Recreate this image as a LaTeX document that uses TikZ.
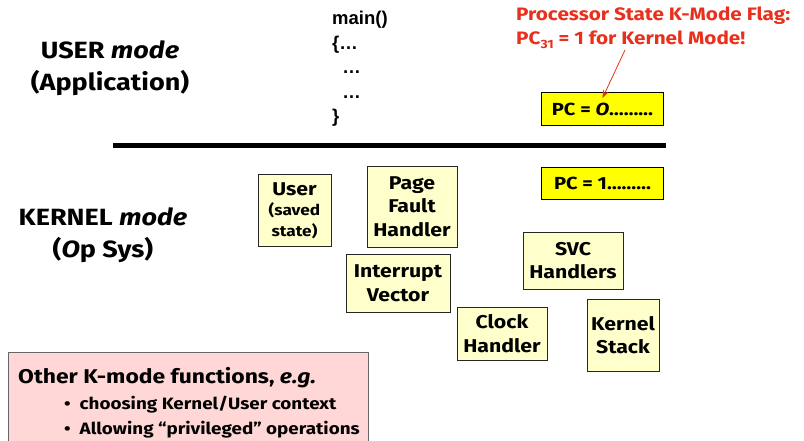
\documentclass[tikz,border=0pt]{standalone}
\usepackage{fontspec}
\setmainfont[FakeStretch=1.15]{Fira Sans}
\newfontfamily\codefont{Liberation Sans}
\usetikzlibrary{arrows.meta,calc}
\definecolor{boxfill}{HTML}{FFFFCC}
\definecolor{pcfill}{HTML}{FFFF00}
\definecolor{pinkfill}{HTML}{FFD7D7}
\definecolor{flagred}{HTML}{E8301C}
\tikzset{
  kbox/.style={draw=black!85, line width=0.9pt, fill=boxfill, align=center, inner sep=0pt, font=\bfseries\fontsize{18.5}{23.5}\selectfont},
  pcbox/.style={draw=black, line width=0.9pt, fill=pcfill, inner sep=0pt, font=\bfseries\fontsize{17.5}{20}\selectfont},
  modelabel/.style={align=center, font=\bfseries\fontsize{23.5}{32}\selectfont},
}
\begin{document}
\begin{tikzpicture}[x=1pt,y=-1pt]
\path[use as bounding box] (0,0) rectangle (804,441);
\fill[white] (0,0) rectangle (804,441);
% mode labels
\node[modelabel] (user) at (110,68) {USER \textit{mode}\\(Application)};
\node[modelabel] (kernel) at (103,235) {KERNEL \textit{mode}\\(\textit{O}p Sys)};
% code
\node[anchor=north west, align=left, inner sep=0pt, font=\codefont\bfseries\fontsize{18.5}{24.5}\selectfont] (code) at (332,11) {main()\\\{\ldots\\\ \ \ldots\\\ \ \ldots\\\}};
% divider
\coordinate (dl) at (113,146);
\coordinate (dr) at (666,146);
\draw[line width=5pt] (dl) -- (dr);
% flag text
\node[anchor=north west, align=left, inner sep=0pt, text=flagred, font=\bfseries\fontsize{18}{24}\selectfont] (flag) at (516,7) {Processor State K-Mode Flag:\\PC\raisebox{-4pt}{\fontsize{12}{12}\selectfont 31} = 1 for Kernel Mode!};
% PC boxes
\node[pcbox, minimum width=122pt, minimum height=33pt] (pc0) at (602.5,109) {PC = \textit{O}\ldots\ldots\ldots};
\node[pcbox, minimum width=122pt, minimum height=32pt] (pc1) at (602.5,183) {PC = 1\ldots\ldots\ldots};
\coordinate (arrowstart) at (625,50);
\draw[flagred, line width=0.8pt, -{Stealth[length=8pt,width=6pt]}] (arrowstart) -- ($(pc0.north)+(0,6)$);
% kernel boxes
\node[kbox, minimum width=73pt, minimum height=72pt] (saved) at (294.5,210.5) {User\\[-3pt]{\fontsize{15}{19}\selectfont (saved}\\[-3pt]{\fontsize{15}{19}\selectfont state)}};
\node[kbox, minimum width=90pt, minimum height=81pt] (pf) at (412,206.5) {Page\\Fault\\Handler};
\node[kbox, minimum width=104pt, minimum height=58pt] (iv) at (398,283) {Interrupt\\Vector};
\node[kbox, minimum width=100pt, minimum height=57pt] (svc) at (573,260.5) {SVC\\Handlers};
\node[kbox, minimum width=90pt, minimum height=53pt] (clk) at (502,333.5) {Clock\\Handler};
\node[kbox, minimum width=72pt, minimum height=72pt] (ks) at (623,335) {Kernel\\Stack};
% pink box
\fill[pinkfill] (8,352) rectangle (368,441);
\draw[black!60, line width=0.8pt] (8,441) -- (8,352) -- (368,352) -- (368,441);
\node[anchor=west, inner sep=0pt, font=\bfseries\fontsize{19.9}{20}\selectfont] (other) at (18,378) {Other K-mode functions, \textit{e.g.}};
\node[anchor=west, inner sep=0pt, font=\bfseries\fontsize{16.4}{20}\selectfont] (b1) at (64,405) {\textbullet\ \ choosing Kernel/User context};
\node[anchor=west, inner sep=0pt, font=\bfseries\fontsize{16.4}{20}\selectfont] (b2) at (64,430) {\textbullet\ \ Allowing “privileged” operations};
\end{tikzpicture}
\end{document}
